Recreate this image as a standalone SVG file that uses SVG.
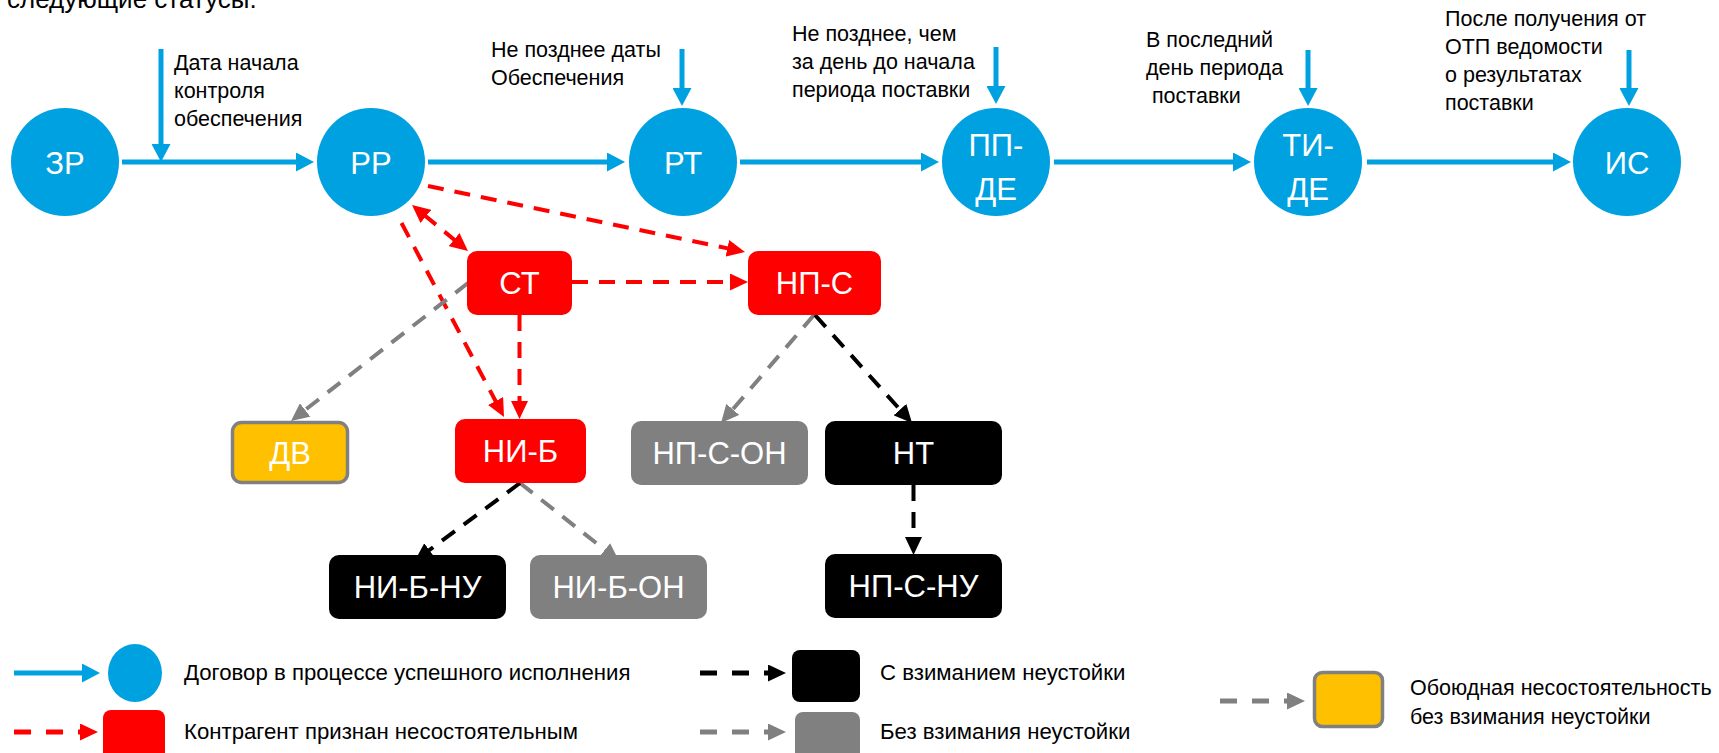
<svg xmlns="http://www.w3.org/2000/svg" width="1719" height="753" viewBox="0 0 1719 753">
<style>
.t{font-family:"Liberation Sans",Arial,sans-serif;font-size:21.5px;fill:#000}
.lt{font-family:"Liberation Sans",Arial,sans-serif;font-size:22.2px;fill:#000}
.top{font-family:"Liberation Sans",Arial,sans-serif;font-size:26px;fill:#000}
.nt{font-family:"Liberation Sans",Arial,sans-serif;font-size:31px;fill:#fff;text-anchor:middle}
.circ{fill:#00A1E0}
.bx-red{fill:#FF0000}
.bx-blk{fill:#000}
.bx-gry{fill:#808080}
.bx-yel{fill:#FFC000;stroke:#808080;stroke-width:3.5}
.cb{stroke:#00A1E0;stroke-width:5;fill:none;marker-end:url(#mBlue)}
.cr{stroke:#FF0000;stroke-width:4;stroke-dasharray:16 11;fill:none;marker-end:url(#mRed)}
.cg{stroke:#808080;stroke-width:4;stroke-dasharray:16 11;fill:none;marker-end:url(#mGray)}
.ck{stroke:#000;stroke-width:4;stroke-dasharray:16 11;fill:none;marker-end:url(#mBlack)}
.lr{stroke:#FF0000;stroke-width:5;stroke-dasharray:17 15;fill:none;marker-end:url(#mRed)}
.lg{stroke:#808080;stroke-width:5;stroke-dasharray:17 15;fill:none;marker-end:url(#mGray)}
.lk{stroke:#000;stroke-width:5;stroke-dasharray:17 15;fill:none;marker-end:url(#mBlack)}
</style>
<defs>
<marker id="mBlue" markerUnits="userSpaceOnUse" markerWidth="19" markerHeight="19" refX="3" refY="9.5" orient="auto"><path d="M0,0 L18,9.5 L0,19 z" fill="#00A1E0"/></marker>
<marker id="mRed" markerUnits="userSpaceOnUse" markerWidth="18" markerHeight="17" refX="3" refY="8.5" orient="auto-start-reverse"><path d="M0,0 L18,8.5 L0,17 z" fill="#FF0000"/></marker>
<marker id="mGray" markerUnits="userSpaceOnUse" markerWidth="18" markerHeight="17" refX="3" refY="8.5" orient="auto"><path d="M0,0 L18,8.5 L0,17 z" fill="#808080"/></marker>
<marker id="mBlack" markerUnits="userSpaceOnUse" markerWidth="18" markerHeight="17" refX="3" refY="8.5" orient="auto"><path d="M0,0 L18,8.5 L0,17 z" fill="#000"/></marker>
</defs>

<text class="top" x="7" y="8">следующие статусы.</text>

<g id="annotations">
<text class="t" x="174" y="70">Дата начала</text>
<text class="t" x="174" y="98">контроля</text>
<text class="t" x="174" y="126">обеспечения</text>
<text class="t" x="491" y="57">Не позднее даты</text>
<text class="t" x="491" y="85">Обеспечения</text>
<text class="t" x="792" y="40.5">Не позднее, чем</text>
<text class="t" x="792" y="68.5">за день до начала</text>
<text class="t" x="792" y="96.5">периода поставки</text>
<text class="t" x="1146" y="46.5">В последний</text>
<text class="t" x="1146" y="75">день периода</text>
<text class="t" x="1146" y="103" xml:space="preserve"> поставки</text>
<text class="t" x="1445" y="25.5">После получения от</text>
<text class="t" x="1445" y="53.5">ОТП ведомости</text>
<text class="t" x="1445" y="82">о результатах</text>
<text class="t" x="1445" y="110">поставки</text>
</g>

<g id="connectors">
<line class="cb" x1="122" y1="162" x2="299" y2="162"/>
<line class="cb" x1="428" y1="162" x2="610" y2="162"/>
<line class="cb" x1="740" y1="162" x2="924" y2="162"/>
<line class="cb" x1="1054" y1="162" x2="1236" y2="162"/>
<line class="cb" x1="1367" y1="162" x2="1556" y2="162"/>
<line class="cb" x1="161" y1="49" x2="161" y2="147"/>
<line class="cb" x1="682" y1="49" x2="682" y2="91"/>
<line class="cb" x1="996" y1="47" x2="996" y2="89"/>
<line class="cb" x1="1308" y1="50" x2="1308" y2="91"/>
<line class="cb" x1="1629" y1="50" x2="1629" y2="91"/>

<line class="cr" x1="428" y1="186" x2="730.3" y2="248.9"/>
<line class="cr" x1="423.6" y1="214.5" x2="456.4" y2="241.5" marker-start="url(#mRed)"/>
<line class="cr" x1="401.5" y1="223" x2="497" y2="403.7"/>
<line class="cr" x1="519.5" y1="315" x2="519.5" y2="404"/>
<line class="cr" x1="572" y1="282" x2="733" y2="282"/>

<line class="cg" x1="468" y1="283" x2="302.8" y2="411.8"/>
<line class="cg" x1="520" y1="483" x2="607.2" y2="551.7"/>
<line class="cg" x1="814" y1="315" x2="730.8" y2="411.6"/>

<line class="ck" x1="520" y1="483" x2="426.9" y2="551.9"/>
<line class="ck" x1="815" y1="315" x2="902" y2="411.8"/>
<line class="ck" x1="913.5" y1="485" x2="913.5" y2="540"/>
</g>

<g id="n-ZR"><circle class="circ" cx="65" cy="162" r="54"/><text class="nt" x="65" y="174">ЗР</text></g>
<g id="n-RR"><circle class="circ" cx="371" cy="162" r="54"/><text class="nt" x="371" y="174">РР</text></g>
<g id="n-RT"><circle class="circ" cx="683" cy="162" r="54"/><text class="nt" x="683" y="174">РТ</text></g>
<g id="n-PPDE"><circle class="circ" cx="996" cy="162" r="54"/><text class="nt" x="996" y="156">ПП-</text><text class="nt" x="996" y="200">ДЕ</text></g>
<g id="n-TIDE"><circle class="circ" cx="1308" cy="162" r="54"/><text class="nt" x="1308" y="156">ТИ-</text><text class="nt" x="1308" y="200">ДЕ</text></g>
<g id="n-IS"><circle class="circ" cx="1627" cy="162" r="54"/><text class="nt" x="1627" y="174">ИС</text></g>

<g id="n-ST"><rect class="bx-red" x="467" y="251" width="105" height="64" rx="10"/><text class="nt" x="519.5" y="294">СТ</text></g>
<g id="n-NPS"><rect class="bx-red" x="748" y="251" width="133" height="64" rx="10"/><text class="nt" x="814.5" y="294">НП-С</text></g>
<g id="n-DV"><rect class="bx-yel" x="232.5" y="422.5" width="115" height="60" rx="9"/><text class="nt" x="290" y="463.5">ДВ</text></g>
<g id="n-NIB"><rect class="bx-red" x="455" y="419" width="131" height="64" rx="10"/><text class="nt" x="520.5" y="462">НИ-Б</text></g>
<g id="n-NPSON"><rect class="bx-gry" x="631" y="421" width="177" height="64" rx="10"/><text class="nt" x="719.5" y="464">НП-С-ОН</text></g>
<g id="n-NT"><rect class="bx-blk" x="825" y="421" width="177" height="64" rx="10"/><text class="nt" x="913.5" y="464">НТ</text></g>
<g id="n-NIBNU"><rect class="bx-blk" x="329" y="555" width="177" height="64" rx="10"/><text class="nt" x="417.5" y="598">НИ-Б-НУ</text></g>
<g id="n-NIBON"><rect class="bx-gry" x="530" y="555" width="177" height="64" rx="10"/><text class="nt" x="618.5" y="598">НИ-Б-ОН</text></g>
<g id="n-NPSNU"><rect class="bx-blk" x="825" y="554" width="177" height="64" rx="10"/><text class="nt" x="913.5" y="597">НП-С-НУ</text></g>

<g id="legend">
<line class="cb" x1="14" y1="673" x2="85" y2="673"/>
<ellipse class="circ" cx="135" cy="673" rx="27" ry="29"/>
<text class="lt" x="184" y="680">Договор в процессе успешного исполнения</text>
<line class="lr" x1="14" y1="732" x2="83" y2="732"/>
<rect class="bx-red" x="103" y="710" width="62" height="52" rx="8"/>
<text class="lt" x="184" y="739">Контрагент признан несостоятельным</text>
<line class="lk" x1="700" y1="673" x2="771" y2="673"/>
<rect class="bx-blk" x="792" y="650" width="68" height="52" rx="8"/>
<text class="lt" x="880" y="680">С взиманием неустойки</text>
<line class="lg" x1="700" y1="732" x2="771" y2="732"/>
<rect class="bx-gry" x="795" y="712" width="65" height="50" rx="8"/>
<text class="lt" x="880" y="739">Без взимания неустойки</text>
<line class="lg" x1="1220" y1="701" x2="1290" y2="701"/>
<rect class="bx-yel" x="1314.5" y="672.5" width="68" height="54" rx="8"/>
<text class="t" x="1410" y="695">Обоюдная несостоятельность</text>
<text class="t" x="1410" y="724">без взимания неустойки</text>
</g>
</svg>
